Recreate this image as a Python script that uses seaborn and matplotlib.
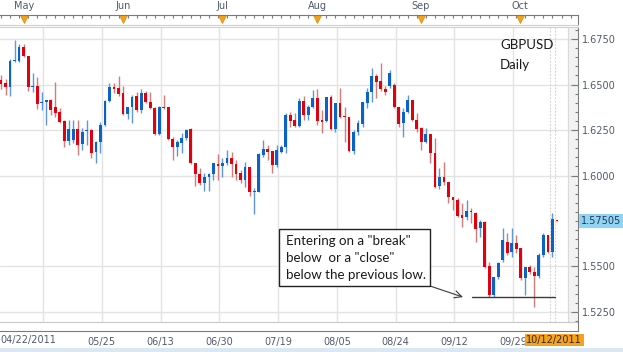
import numpy as np
import pandas as pd
import seaborn as sns
import matplotlib.pyplot as plt
from matplotlib.patches import Rectangle
from matplotlib.ticker import FixedLocator, MultipleLocator, NullFormatter


# GBPUSD daily candles
opens = [1.6525, 1.6508, 1.6486, 1.6629, 1.6629, 1.6706, 1.6657, 1.6486, 1.6492, 1.6398,
         1.6404, 1.6415, 1.6376, 1.6349, 1.6299, 1.6190, 1.6195, 1.6255, 1.6173, 1.6245,
         1.6250, 1.6129, 1.6184, 1.6277, 1.6409, 1.6486, 1.6481, 1.6453, 1.6338, 1.6376,
         1.6437, 1.6360, 1.6453, 1.6404, 1.6371, 1.6228, 1.6376, 1.6376, 1.6201, 1.6157,
         1.6179, 1.6206, 1.6255, 1.6069, 1.6008, 1.5959, 1.5992, 1.6008, 1.6063, 1.6052,
         1.6069, 1.6096, 1.6063, 1.6014, 1.5975, 1.6047, 1.5909, 1.5909, 1.6113, 1.6146,
         1.6135, 1.6058, 1.6129, 1.6157, 1.6332, 1.6305, 1.6272, 1.6409, 1.6332, 1.6376,
         1.6426, 1.6305, 1.6299, 1.6431, 1.6255, 1.6398, 1.6327, 1.6321, 1.6135, 1.6239,
         1.6283, 1.6398, 1.6459, 1.6547, 1.6519, 1.6475, 1.6492, 1.6497, 1.6376, 1.6288,
         1.6349, 1.6415, 1.6305, 1.6261, 1.6184, 1.6228, 1.6124, 1.5942, 1.5992, 1.5964,
         1.5882, 1.5865, 1.5783, 1.5772, 1.5805, 1.5794, 1.5712, 1.5745, 1.5503, 1.5343,
         1.5442, 1.5536, 1.5635, 1.5580, 1.5629, 1.5602, 1.5437, 1.5497, 1.5470, 1.5448,
         1.5563, 1.5673, 1.5580, 1.5755]
highs = [1.6552, 1.6530, 1.6640, 1.6745, 1.6723, 1.6723, 1.6657, 1.6563, 1.6541, 1.6459,
         1.6415, 1.6420, 1.6514, 1.6371, 1.6305, 1.6305, 1.6305, 1.6305, 1.6261, 1.6305,
         1.6255, 1.6190, 1.6294, 1.6415, 1.6508, 1.6508, 1.6547, 1.6492, 1.6376, 1.6442,
         1.6459, 1.6475, 1.6464, 1.6459, 1.6376, 1.6382, 1.6442, 1.6376, 1.6212, 1.6195,
         1.6234, 1.6255, 1.6261, 1.6069, 1.6041, 1.6014, 1.6014, 1.6069, 1.6118, 1.6096,
         1.6140, 1.6129, 1.6085, 1.6030, 1.6074, 1.6047, 1.5931, 1.6124, 1.6195, 1.6168,
         1.6135, 1.6168, 1.6168, 1.6343, 1.6349, 1.6343, 1.6426, 1.6437, 1.6387, 1.6470,
         1.6475, 1.6360, 1.6431, 1.6442, 1.6398, 1.6481, 1.6376, 1.6321, 1.6250, 1.6305,
         1.6404, 1.6481, 1.6591, 1.6558, 1.6618, 1.6492, 1.6580, 1.6508, 1.6376, 1.6371,
         1.6442, 1.6415, 1.6343, 1.6266, 1.6261, 1.6228, 1.6206, 1.6041, 1.6074, 1.5964,
         1.5882, 1.5876, 1.5849, 1.5865, 1.5821, 1.5799, 1.5755, 1.5750, 1.5525, 1.5442,
         1.5525, 1.5711, 1.5684, 1.5711, 1.5673, 1.5602, 1.5497, 1.5508, 1.5497, 1.5574,
         1.5684, 1.5673, 1.5794, 1.5755]
lows = [1.6475, 1.6442, 1.6437, 1.6624, 1.6624, 1.6651, 1.6464, 1.6459, 1.6365, 1.6360,
        1.6277, 1.6332, 1.6321, 1.6288, 1.6157, 1.6168, 1.6179, 1.6113, 1.6140, 1.6168,
        1.6096, 1.6069, 1.6124, 1.6272, 1.6404, 1.6453, 1.6437, 1.6332, 1.6310, 1.6288,
        1.6349, 1.6343, 1.6398, 1.6365, 1.6223, 1.6223, 1.6365, 1.6195, 1.6085, 1.6107,
        1.6124, 1.6195, 1.6063, 1.5942, 1.5948, 1.5915, 1.5915, 1.5975, 1.5975, 1.5992,
        1.6058, 1.5992, 1.5975, 1.5959, 1.5937, 1.5887, 1.5788, 1.5909, 1.6102, 1.6085,
        1.6014, 1.6047, 1.6124, 1.6124, 1.6266, 1.6266, 1.6266, 1.6305, 1.6305, 1.6371,
        1.6277, 1.6233, 1.6294, 1.6250, 1.6239, 1.6316, 1.6184, 1.6129, 1.6118, 1.6223,
        1.6266, 1.6371, 1.6404, 1.6426, 1.6464, 1.6442, 1.6481, 1.6371, 1.6266, 1.6212,
        1.6343, 1.6299, 1.6239, 1.6140, 1.6179, 1.6069, 1.5931, 1.5926, 1.5948, 1.5849,
        1.5810, 1.5772, 1.5717, 1.5755, 1.5739, 1.5635, 1.5662, 1.5492, 1.5332, 1.5332,
        1.5431, 1.5525, 1.5563, 1.5552, 1.5574, 1.5426, 1.5343, 1.5459, 1.5277, 1.5437,
        1.5552, 1.5574, 1.5552, 1.5750]
closes = [1.6503, 1.6486, 1.6629, 1.6635, 1.6706, 1.6657, 1.6486, 1.6492, 1.6393, 1.6404,
          1.6415, 1.6360, 1.6343, 1.6294, 1.6190, 1.6255, 1.6255, 1.6168, 1.6239, 1.6250,
          1.6124, 1.6184, 1.6277, 1.6409, 1.6486, 1.6475, 1.6448, 1.6338, 1.6376, 1.6431,
          1.6360, 1.6453, 1.6404, 1.6371, 1.6228, 1.6376, 1.6371, 1.6201, 1.6157, 1.6184,
          1.6206, 1.6250, 1.6069, 1.6008, 1.5959, 1.5992, 1.6008, 1.6069, 1.6052, 1.6069,
          1.6096, 1.6063, 1.6008, 1.5975, 1.6047, 1.5909, 1.5915, 1.6118, 1.6146, 1.6129,
          1.6058, 1.6140, 1.6157, 1.6332, 1.6299, 1.6272, 1.6409, 1.6332, 1.6376, 1.6426,
          1.6299, 1.6294, 1.6431, 1.6255, 1.6398, 1.6321, 1.6321, 1.6135, 1.6239, 1.6288,
          1.6404, 1.6459, 1.6547, 1.6514, 1.6475, 1.6459, 1.6563, 1.6376, 1.6283, 1.6349,
          1.6415, 1.6305, 1.6255, 1.6184, 1.6228, 1.6124, 1.5937, 1.5992, 1.5964, 1.5882,
          1.5865, 1.5777, 1.5766, 1.5805, 1.5799, 1.5706, 1.5745, 1.5497, 1.5343, 1.5442,
          1.5519, 1.5646, 1.5574, 1.5629, 1.5596, 1.5437, 1.5497, 1.5470, 1.5448, 1.5563,
          1.5673, 1.5580, 1.5761, 1.5750]

date_labels = ["04/22/2011", "05/25", "06/13", "06/30", "07/19",
               "08/05", "08/24", "09/12", "09/29"]
date_pos = [9.3, 22.3, 35.3, 48.3, 61.3, 74.3, 87.3, 100.3, 113.3]
last_date = "10/12/2011"
months = ["May", "Jun", "Jul", "Aug", "Sep", "Oct"]
month_pos = [5.1, 27.0, 49.0, 70.0, 92.9, 114.8]
price_ticks = [1.5250, 1.5500, 1.6000, 1.6250, 1.6500, 1.6750]
last_price = 1.57505
support = 1.5332
support_from, support_to = 104.2, 122.6

W, H = 623, 352
TXT = "#4f5b6d"
FS = 7

df = pd.DataFrame({"open": opens, "high": highs, "low": lows, "close": closes})
df["i"] = np.arange(len(df))
df["up"] = df["close"] >= df["open"]
df["bottom"] = df[["open", "close"]].min(axis=1)
df["body"] = (df["close"] - df["open"]).abs().clip(lower=0.0006)

sns.set_style("white")
plt.rcParams["font.family"] = ["DejaVu Sans"]


def px_box(x0, y0, x1, y1):
    return [x0 / W, 1 - y1 / H, (x1 - x0) / W, (y1 - y0) / H]


fig = plt.figure(figsize=(W / 100, H / 100), dpi=100)
fig.patch.set_facecolor("white")

x_lo, x_hi = -0.22, 127.65
ax = fig.add_axes(px_box(0, 27, 578, 322))
ax.set_xlim(x_lo, x_hi)
ax.set_ylim(1.5195, 1.6816)

# grid and frame
ax.xaxis.set_major_locator(FixedLocator(date_pos))
ax.xaxis.set_major_formatter(NullFormatter())
ax.tick_params(axis="x", length=0)
ax.yaxis.tick_right()
ax.yaxis.set_major_locator(FixedLocator(price_ticks))
ax.yaxis.set_major_formatter(plt.FormatStrFormatter("%.4f"))
ax.yaxis.set_minor_locator(MultipleLocator(0.005))
ax.tick_params(axis="y", which="major", direction="in", length=5, width=0.8,
               color="#7a7a7a", labelsize=FS, labelcolor=TXT, pad=3)
ax.tick_params(axis="y", which="minor", direction="in", length=2.2, width=0.8,
               color="#7a7a7a")
ax.grid(True, which="major", color="#e3e3e3", lw=1)
ax.spines["left"].set_visible(False)
ax.spines["top"].set_color("#d0d0d0")
ax.spines["bottom"].set_color("#c8c8c8")
ax.spines["right"].set_color("#808080")
ax.axvspan(125.4, x_hi, color="#f3f3f3", zorder=0.5)
ax.axvline(125.4, color="#dadada", lw=0.8, zorder=0.6)
for off in (-0.55, 0.57):
    ax.axvline(df["i"].iloc[-2] + off, color="#cfcfcf", lw=0.8, ls=(0, (1.5, 1.5)), zorder=0.7)

# candles
wick_col = np.where(df["up"], "#5f98d8", "#d77a7a")
body_col = np.where(df["up"], "#0b63c8", "#e0000e")
ax.vlines(df["i"], df["low"], df["high"], colors=wick_col, lw=1, zorder=2)
ax.bar(df["i"], df["body"], bottom=df["bottom"], width=0.62, color=body_col,
       lw=0, zorder=3)

# support line + annotation arrow
sns.lineplot(x=[support_from, support_to], y=[support, support], color="#3a3a3a",
             lw=1, ax=ax, zorder=4)
ax.annotate("", xy=(102.2, support), xycoords="data",
            xytext=(430 / W, 1 - 286 / H), textcoords="figure fraction",
            arrowprops=dict(arrowstyle="->", color="#3a3a3a", lw=0.8,
                            shrinkA=0, shrinkB=0, mutation_scale=13))

# current price flag
ax.text(1.005, last_price, "1.57505", transform=ax.get_yaxis_transform(),
        ha="left", va="center", fontsize=FS, color="#2b3a4e",
        bbox=dict(boxstyle="square,pad=0.18", fc="#8fd3f5", ec="none"))

# top ruler with months
top = fig.add_axes(px_box(0, 15, 578, 25))
top.set_xlim(x_lo, x_hi)
top.set_ylim(0, 1)
top.patch.set_alpha(0)
top.xaxis.tick_top()
top.xaxis.set_major_locator(FixedLocator(month_pos))
top.set_xticklabels(months)
top.xaxis.set_minor_locator(MultipleLocator(2))
top.tick_params(axis="x", which="major", length=0, labelsize=FS,
                labelcolor=TXT, pad=3)
top.tick_params(axis="x", which="minor", direction="in", length=2.5,
                color="#7a7a7a", width=0.8)
top.set_yticks([])
top.spines["left"].set_visible(False)
top.spines["top"].set_color("#7a7a7a")
top.spines["right"].set_color("#7a7a7a")
top.spines["bottom"].set_color("#cfcfcf")
top.plot(month_pos, [0.6] * len(month_pos), "v", color="#f4a11c", ms=5.5,
         mec="#e08a00", mew=0.5, clip_on=False)

# bottom ruler with dates
bot = fig.add_axes(px_box(0, 322, 578, 331))
bot.set_xlim(x_lo, x_hi)
bot.set_ylim(0, 1)
bot.patch.set_alpha(0)
bot.xaxis.set_major_locator(FixedLocator(date_pos))
bot.set_xticklabels([""] + date_labels[1:])
bot.xaxis.set_minor_locator(MultipleLocator(1))
bot.tick_params(axis="x", which="major", direction="in", length=6, width=0.8,
                color="#7a7a7a", labelsize=FS, labelcolor=TXT, pad=4)
bot.tick_params(axis="x", which="minor", direction="in", length=2.2, width=0.8,
                color="#7a7a7a")
bot.set_yticks([])
bot.spines["left"].set_visible(False)
bot.spines["top"].set_visible(False)
bot.spines["bottom"].set_color("#7a7a7a")
bot.spines["right"].set_color("#7a7a7a")
# first date is pinned to the left edge, as in the terminal
bot.text(0.0, -1.0, date_labels[0], transform=bot.transAxes, ha="left",
         va="center", fontsize=FS, color=TXT)
bot.text(122.4, -1.0, last_date, transform=bot.get_xaxis_transform(),
         ha="center", va="center", fontsize=FS, color="#2b2b2b",
         bbox=dict(boxstyle="square,pad=0.15", fc="#f7a21d", ec="none"))

# labels inside the chart
fig.text(500 / W, 1 - 45 / H, "GBPUSD", family=["Lato", "DejaVu Sans"],
         fontsize=9.5, color="#1a1a1a", va="center", ha="left")
fig.text(500 / W, 1 - 65 / H, "Daily", family=["Lato", "DejaVu Sans"],
         fontsize=9.5, color="#1a1a1a", va="center", ha="left")

fig.add_artist(Rectangle((279 / W, 1 - 286 / H), 151 / W, 57 / H,
                         transform=fig.transFigure, fc="white", ec="#222222",
                         lw=1, zorder=5))
note = ['Entering on a "break"', 'below  or a "close"', "below the previous low."]
for k, line in enumerate(note):
    fig.text(286 / W, 1 - (241 + 17 * k) / H, line, family=["Lato", "DejaVu Sans"],
             fontsize=9.6, color="#1a1a1a", va="center", ha="left", zorder=6)

fig.add_artist(Rectangle((0, 0), 1, 4 / H, transform=fig.transFigure,
                         fc="#dbe7f2", ec="none"))

fig.savefig("out.png", dpi=100)
